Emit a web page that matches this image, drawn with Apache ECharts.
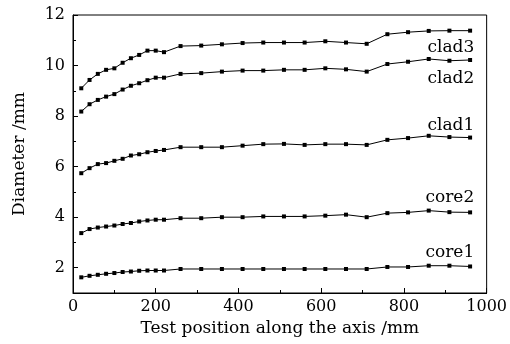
<!DOCTYPE html>
<html><head><meta charset="utf-8">
<script src="https://cdn.jsdelivr.net/npm/echarts@6/dist/echarts.min.js"></script>
<style>html,body{margin:0;padding:0;background:#fff}#c{width:510px;height:344px}</style>
</head><body><div id="c"></div>
<script>
var positions = [20,40,60,80,100,120,140,160,180,200,220,260,310,360,410,460,510,560,610,660,710,760,810,860,910,960];
var clad3 = [9.10,9.43,9.67,9.83,9.89,10.11,10.29,10.42,10.59,10.59,10.53,10.77,10.79,10.84,10.89,10.91,10.91,10.91,10.96,10.91,10.86,11.24,11.32,11.37,11.38,11.38];
var clad2 = [8.18,8.47,8.64,8.77,8.87,9.05,9.20,9.30,9.42,9.52,9.52,9.67,9.70,9.76,9.80,9.80,9.83,9.83,9.89,9.85,9.76,10.06,10.15,10.26,10.19,10.22];
var clad1 = [5.74,5.94,6.10,6.14,6.23,6.31,6.44,6.49,6.57,6.62,6.66,6.77,6.77,6.77,6.83,6.89,6.90,6.86,6.89,6.89,6.86,7.06,7.13,7.22,7.17,7.15];
var core2 = [3.37,3.53,3.59,3.63,3.67,3.73,3.77,3.83,3.87,3.90,3.90,3.96,3.96,4.00,4.00,4.03,4.03,4.03,4.06,4.10,4.00,4.16,4.19,4.26,4.20,4.19];
var core1 = [1.62,1.68,1.72,1.76,1.79,1.83,1.85,1.88,1.89,1.89,1.89,1.95,1.95,1.95,1.95,1.95,1.95,1.95,1.95,1.95,1.95,2.03,2.03,2.08,2.08,2.05];
var seriesNames = ['clad3','clad2','clad1','core2','core1'];
var seriesData = [clad3, clad2, clad1, core2, core1];
var labelAnchors = [[970,10.7],[970,9.5],[970,7.62],[970,4.78],[970,2.58]];
var yMajorTicks = [2,4,6,8,10,12];
var yMinorTicks = [3,5,7,9,11];
var xTitle = 'Test position along the axis /mm';
var yTitle = 'Diameter /mm';

var font = 'DejaVu Serif';
var chart = echarts.init(document.getElementById('c'));
var series = seriesData.map(function(d, i){
  return {
    type:'line', name: seriesNames[i],
    data: positions.map(function(x, j){ return [x, d[j]]; }),
    symbol:'rect', symbolSize:4, showSymbol:true,
    lineStyle:{color:'#000', width:1}, itemStyle:{color:'#000'},
    animation:false,
    markPoint:{
      symbol:'rect', symbolSize:0,
      data:[{coord: labelAnchors[i], name: seriesNames[i]}],
      label:{show:true, position:'left', distance:0, formatter:'{b}', color:'#000', fontFamily:font, fontSize:17}
    }
  };
});
chart.setOption({
  backgroundColor:'#fff',
  grid:{left:73, right:19, top:15, bottom:51, show:true, borderColor:'#000', borderWidth:1},
  xAxis:{type:'value', min:0, max:1000, interval:200,
    name:xTitle, nameLocation:'middle', nameGap:27,
    nameTextStyle:{fontFamily:font, fontSize:17, color:'#000'},
    axisLine:{lineStyle:{color:'#000', width:1}},
    axisTick:{inside:true, length:5, lineStyle:{color:'#000'}},
    minorTick:{show:true, splitNumber:2, length:3, lineStyle:{color:'#000'}},
    axisLabel:{fontFamily:font, fontSize:16, color:'#000', margin:6, formatter:function(v){return String(v);}},
    splitLine:{show:false}},
  yAxis:[{type:'value', min:1, max:12,
    name:yTitle, nameLocation:'middle', nameGap:45,
    nameTextStyle:{fontFamily:font, fontSize:17, color:'#000'},
    axisLine:{show:true, lineStyle:{color:'#000', width:1}},
    axisTick:{show:true, inside:true, length:5, customValues:yMajorTicks, lineStyle:{color:'#000'}},
    axisLabel:{fontFamily:font, fontSize:16, color:'#000', margin:8, customValues:yMajorTicks},
    splitLine:{show:false}},
   {type:'value', min:1, max:12, position:'left',
    axisLine:{show:false},
    axisTick:{show:true, inside:true, length:3, customValues:yMinorTicks, lineStyle:{color:'#000'}},
    axisLabel:{show:false},
    splitLine:{show:false}}],
  series: series
});
</script>
</body></html>
